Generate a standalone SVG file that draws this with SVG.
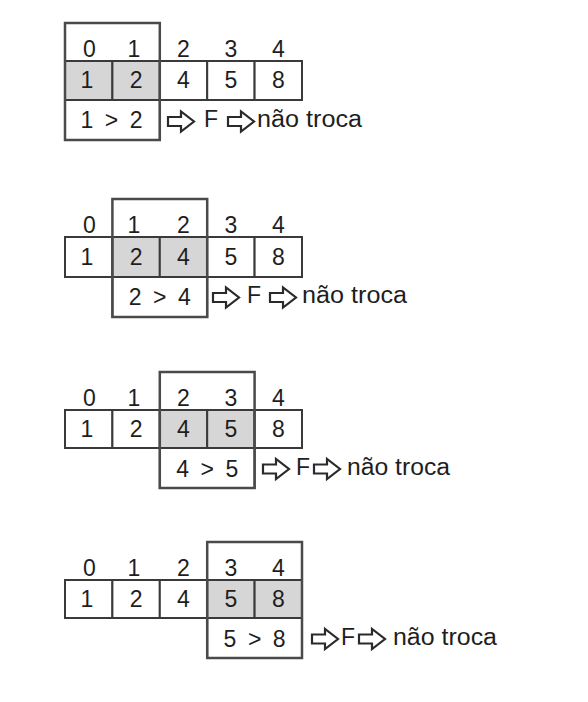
<svg xmlns="http://www.w3.org/2000/svg" width="588" height="702" viewBox="0 0 588 702">
<style>
.t{font-family:"Liberation Sans",Arial,sans-serif;font-size:23px;fill:#1e1e1e;text-anchor:middle}
.s{font-family:"Liberation Sans",Arial,sans-serif;font-size:23px;fill:#1e1e1e}
.c{fill:#fff;stroke:#3a3a3a;stroke-width:2}
.h{fill:#d6d6d6;stroke:#3a3a3a;stroke-width:2}
.f{fill:none;stroke:#4a4a4a;stroke-width:2.5}
.a{fill:#fff;stroke:#2a2a2a;stroke-width:2.2;stroke-linejoin:miter}
</style>
<defs>
<path id="arr" d="M0,-4.5 L13,-4.5 L13,-10 L26,0 L13,10 L13,4.5 L0,4.5 Z"/>
</defs>
<rect width="588" height="702" fill="#fff"/>

<g id="panel1">
<rect class="h" x="65" y="61" width="47.4" height="39"/>
<rect class="h" x="112.4" y="61" width="47.4" height="39"/>
<rect class="c" x="159.8" y="61" width="47.4" height="39"/>
<rect class="c" x="207.2" y="61" width="47.4" height="39"/>
<rect class="c" x="254.6" y="61" width="47.4" height="39"/>
<rect class="c" x="65" y="100" width="94.8" height="40"/>
<rect class="f" x="65" y="23" width="94.8" height="117"/>
<text class="t" x="89.5" y="57">0</text><text class="t" x="134" y="57">1</text><text class="t" x="183.5" y="57">2</text><text class="t" x="230.9" y="57">3</text><text class="t" x="278.3" y="57">4</text>
<text class="t" x="87" y="88">1</text><text class="t" x="136.1" y="88">2</text><text class="t" x="183.5" y="88">4</text><text class="t" x="230.9" y="88">5</text><text class="t" x="278.3" y="88">8</text>
<text class="t" x="111.5" y="128" textLength="62" lengthAdjust="spacing">1 &gt; 2</text>
<text class="s" x="204" y="127">F</text>
<text class="s" x="257" y="127" textLength="105" lengthAdjust="spacingAndGlyphs">não troca</text>
</g>

<g id="panel2">
<rect class="c" x="65" y="237" width="47.4" height="40"/>
<rect class="h" x="112.4" y="237" width="47.4" height="40"/>
<rect class="h" x="159.8" y="237" width="47.4" height="40"/>
<rect class="c" x="207.2" y="237" width="47.4" height="40"/>
<rect class="c" x="254.6" y="237" width="47.4" height="40"/>
<rect class="c" x="112.4" y="277" width="94.8" height="40"/>
<rect class="f" x="112.4" y="199" width="94.8" height="118"/>
<text class="t" x="89.5" y="233">0</text><text class="t" x="134" y="233">1</text><text class="t" x="183.5" y="233">2</text><text class="t" x="230.9" y="233">3</text><text class="t" x="278.3" y="233">4</text>
<text class="t" x="87" y="265">1</text><text class="t" x="136.1" y="265">2</text><text class="t" x="183.5" y="265">4</text><text class="t" x="230.9" y="265">5</text><text class="t" x="278.3" y="265">8</text>
<text class="t" x="159.8" y="305" textLength="62" lengthAdjust="spacing">2 &gt; 4</text>
<text class="s" x="247" y="303">F</text>
<text class="s" x="302" y="303" textLength="105" lengthAdjust="spacingAndGlyphs">não troca</text>
</g>

<g id="panel3">
<rect class="c" x="65" y="410" width="47.4" height="38"/>
<rect class="c" x="112.4" y="410" width="47.4" height="38"/>
<rect class="h" x="159.8" y="410" width="47.4" height="38"/>
<rect class="h" x="207.2" y="410" width="47.4" height="38"/>
<rect class="c" x="254.6" y="410" width="47.4" height="38"/>
<rect class="c" x="159.8" y="448" width="94.8" height="40"/>
<rect class="f" x="159.8" y="372" width="94.8" height="116"/>
<text class="t" x="89.5" y="406">0</text><text class="t" x="134" y="406">1</text><text class="t" x="183.5" y="406">2</text><text class="t" x="230.9" y="406">3</text><text class="t" x="278.3" y="406">4</text>
<text class="t" x="87" y="437">1</text><text class="t" x="136.1" y="437">2</text><text class="t" x="183.5" y="437">4</text><text class="t" x="230.9" y="437">5</text><text class="t" x="278.3" y="437">8</text>
<text class="t" x="207.2" y="477" textLength="62" lengthAdjust="spacing">4 &gt; 5</text>
<text class="s" x="296" y="475">F</text>
<text class="s" x="347" y="475" textLength="103" lengthAdjust="spacingAndGlyphs">não troca</text>
</g>

<g id="panel4">
<rect class="c" x="65" y="580" width="47.4" height="38"/>
<rect class="c" x="112.4" y="580" width="47.4" height="38"/>
<rect class="c" x="159.8" y="580" width="47.4" height="38"/>
<rect class="h" x="207.2" y="580" width="47.4" height="38"/>
<rect class="h" x="254.6" y="580" width="47.4" height="38"/>
<rect class="c" x="207.2" y="618" width="94.8" height="40"/>
<rect class="f" x="207.2" y="542" width="94.8" height="116"/>
<text class="t" x="89.5" y="576">0</text><text class="t" x="134" y="576">1</text><text class="t" x="183.5" y="576">2</text><text class="t" x="230.9" y="576">3</text><text class="t" x="278.3" y="576">4</text>
<text class="t" x="87" y="607">1</text><text class="t" x="136.1" y="607">2</text><text class="t" x="183.5" y="607">4</text><text class="t" x="230.9" y="607">5</text><text class="t" x="278.3" y="607">8</text>
<text class="t" x="254.6" y="647" textLength="62" lengthAdjust="spacing">5 &gt; 8</text>
<text class="s" x="341" y="645">F</text>
<text class="s" x="393" y="645" textLength="104" lengthAdjust="spacingAndGlyphs">não troca</text>
</g>

<g id="connectors">
<use href="#arr" class="a" x="168" y="121.5"/>
<use href="#arr" class="a" x="228" y="121.5"/>
<use href="#arr" class="a" x="213" y="297.5"/>
<use href="#arr" class="a" x="270" y="297.5"/>
<use href="#arr" class="a" x="263" y="469"/>
<use href="#arr" class="a" x="314" y="469"/>
<use href="#arr" class="a" x="312" y="639"/>
<use href="#arr" class="a" x="359" y="639"/>
</g>
</svg>
